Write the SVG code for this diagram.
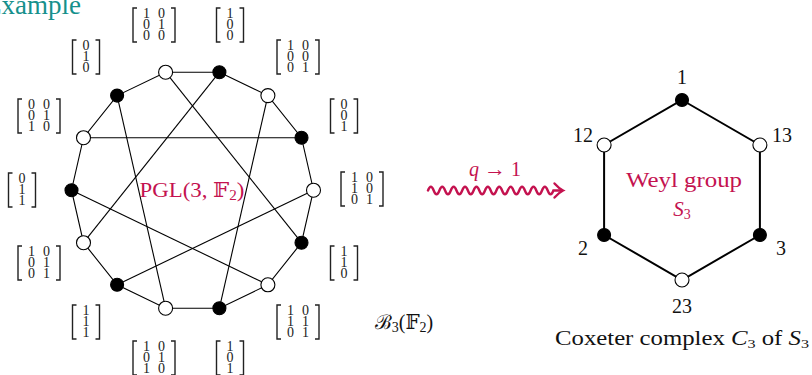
<svg xmlns="http://www.w3.org/2000/svg" xmlns:xlink="http://www.w3.org/1999/xlink" width="812" height="375" viewBox="0 0 812 375">
<style>
.e{stroke:#000;stroke-width:1.1;fill:none}
.h{stroke:#000;stroke-width:2;fill:none}
.w{fill:#fff;stroke:#000;stroke-width:1.1}
.b{fill:#000;stroke:#000;stroke-width:1.1}
.br{fill:none;stroke:#222;stroke-width:1.4}
.d{font-family:"Liberation Serif","DejaVu Serif",serif;font-size:14px;fill:#222;text-anchor:middle}
.t{font-family:"Liberation Serif","DejaVu Serif",serif;font-size:20px;fill:#111;text-anchor:middle}
.m{font-family:"Liberation Serif","DejaVu Serif","DejaVu Sans",serif;fill:#c4124f;text-anchor:middle}
</style>
<defs>
<path id="lv" class="br" d="M-9.5,-17H-13.5V17H-9.5"/>
<path id="rv" class="br" d="M9.5,-17H13.5V17H9.5"/>
<path id="lm" class="br" d="M-17,-17H-21V17H-17"/>
<path id="rm" class="br" d="M17,-17H21V17H17"/>
</defs>
<text x="81" y="13.5" text-anchor="end" font-family="Liberation Serif,DejaVu Serif,serif" font-size="27" fill="#16908c">Example</text>
<g id="connectors">
<polygon class="e" points="219.4,72.2 267.9,95.6 301.5,137.7 313.5,190.2 301.5,242.7 267.9,284.8 219.4,308.2 165.6,308.2 117.1,284.8 83.5,242.7 71.5,190.2 83.5,137.7 117.1,95.6 165.6,72.2"/>
<line class="e" x1="219.4" y1="72.2" x2="83.5" y2="242.7"/>
<line class="e" x1="267.9" y1="95.6" x2="219.4" y2="308.2"/>
<line class="e" x1="301.5" y1="137.7" x2="83.5" y2="137.7"/>
<line class="e" x1="313.5" y1="190.2" x2="117.1" y2="284.8"/>
<line class="e" x1="301.5" y1="242.7" x2="165.6" y2="72.2"/>
<line class="e" x1="267.9" y1="284.8" x2="71.5" y2="190.2"/>
<line class="e" x1="165.6" y1="308.2" x2="117.1" y2="95.6"/>
<polygon class="h" points="682,100 759.9,145 759.9,235 682,280 604.1,235 604.1,145"/>
<path d="M428,190.5 q2.85,-7.5 5.7,0 t5.7,0 t5.7,0 t5.7,0 t5.7,0 t5.7,0 t5.7,0 t5.7,0 t5.7,0 t5.7,0 t5.7,0 t5.7,0 t5.7,0 t5.7,0 t5.7,0 t5.7,0 t5.7,0 t5.7,0 t5.7,0 t5.7,0 t5.7,0 t5.7,0 L561,190.5" fill="none" stroke="#c4124f" stroke-width="2.4" stroke-linecap="round"/>
<path d="M554.5,183.5 Q559,188.5 563,190.5 Q559,192.5 554.5,197.5" fill="none" stroke="#c4124f" stroke-width="2.4" stroke-linecap="round"/>
</g>
<text class="m" x="495" y="176" font-size="20"><tspan font-style="italic">q</tspan> <tspan font-size="22">→</tspan> 1</text>
<text class="m" x="192" y="197" font-size="21" textLength="105" lengthAdjust="spacingAndGlyphs">PGL(3, 𝔽<tspan font-size="14" dy="3">2</tspan><tspan dy="-3">)</tspan></text>
<text class="t" x="404" y="329" font-size="21">ℬ<tspan font-size="14" dy="3">3</tspan><tspan dy="-3">(𝔽</tspan><tspan font-size="14" dy="3">2</tspan><tspan dy="-3">)</tspan></text>
<g id="n0"><circle class="b" cx="219.4" cy="72.2" r="6.5"/><g transform="translate(230,25)"><use xlink:href="#lv"/><use xlink:href="#rv"/><text class="d" y="-7">1</text><text class="d" y="4">0</text><text class="d" y="15">0</text></g></g>
<g id="n1"><circle class="w" cx="267.9" cy="95.6" r="7"/><g transform="translate(298,57)"><use xlink:href="#lm"/><use xlink:href="#rm"/><text class="d" y="-7"><tspan x="-7.5">1</tspan><tspan x="7.5">0</tspan></text><text class="d" y="4"><tspan x="-7.5">0</tspan><tspan x="7.5">0</tspan></text><text class="d" y="15"><tspan x="-7.5">0</tspan><tspan x="7.5">1</tspan></text></g></g>
<g id="n2"><circle class="b" cx="301.5" cy="137.7" r="6.5"/><g transform="translate(344,116)"><use xlink:href="#lv"/><use xlink:href="#rv"/><text class="d" y="-7">0</text><text class="d" y="4">0</text><text class="d" y="15">1</text></g></g>
<g id="n3"><circle class="w" cx="313.5" cy="190.2" r="7"/><g transform="translate(362,189)"><use xlink:href="#lm"/><use xlink:href="#rm"/><text class="d" y="-7"><tspan x="-7.5">1</tspan><tspan x="7.5">0</tspan></text><text class="d" y="4"><tspan x="-7.5">1</tspan><tspan x="7.5">0</tspan></text><text class="d" y="15"><tspan x="-7.5">0</tspan><tspan x="7.5">1</tspan></text></g></g>
<g id="n4"><circle class="b" cx="301.5" cy="242.7" r="6.5"/><g transform="translate(344,263)"><use xlink:href="#lv"/><use xlink:href="#rv"/><text class="d" y="-7">1</text><text class="d" y="4">1</text><text class="d" y="15">0</text></g></g>
<g id="n5"><circle class="w" cx="267.9" cy="284.8" r="7"/><g transform="translate(298,322)"><use xlink:href="#lm"/><use xlink:href="#rm"/><text class="d" y="-7"><tspan x="-7.5">1</tspan><tspan x="7.5">0</tspan></text><text class="d" y="4"><tspan x="-7.5">1</tspan><tspan x="7.5">1</tspan></text><text class="d" y="15"><tspan x="-7.5">0</tspan><tspan x="7.5">1</tspan></text></g></g>
<g id="n6"><circle class="b" cx="219.4" cy="308.2" r="6.5"/><g transform="translate(230,358)"><use xlink:href="#lv"/><use xlink:href="#rv"/><text class="d" y="-7">1</text><text class="d" y="4">0</text><text class="d" y="15">1</text></g></g>
<g id="n7"><circle class="w" cx="165.6" cy="308.2" r="7"/><g transform="translate(154,358)"><use xlink:href="#lm"/><use xlink:href="#rm"/><text class="d" y="-7"><tspan x="-7.5">1</tspan><tspan x="7.5">0</tspan></text><text class="d" y="4"><tspan x="-7.5">0</tspan><tspan x="7.5">1</tspan></text><text class="d" y="15"><tspan x="-7.5">1</tspan><tspan x="7.5">0</tspan></text></g></g>
<g id="n8"><circle class="b" cx="117.1" cy="284.8" r="6.5"/><g transform="translate(86,322)"><use xlink:href="#lv"/><use xlink:href="#rv"/><text class="d" y="-7">1</text><text class="d" y="4">1</text><text class="d" y="15">1</text></g></g>
<g id="n9"><circle class="w" cx="83.5" cy="242.7" r="7"/><g transform="translate(39,263)"><use xlink:href="#lm"/><use xlink:href="#rm"/><text class="d" y="-7"><tspan x="-7.5">1</tspan><tspan x="7.5">0</tspan></text><text class="d" y="4"><tspan x="-7.5">0</tspan><tspan x="7.5">1</tspan></text><text class="d" y="15"><tspan x="-7.5">0</tspan><tspan x="7.5">1</tspan></text></g></g>
<g id="n10"><circle class="b" cx="71.5" cy="190.2" r="6.5"/><g transform="translate(22,190)"><use xlink:href="#lv"/><use xlink:href="#rv"/><text class="d" y="-7">0</text><text class="d" y="4">1</text><text class="d" y="15">1</text></g></g>
<g id="n11"><circle class="w" cx="83.5" cy="137.7" r="7"/><g transform="translate(39,116)"><use xlink:href="#lm"/><use xlink:href="#rm"/><text class="d" y="-7"><tspan x="-7.5">0</tspan><tspan x="7.5">0</tspan></text><text class="d" y="4"><tspan x="-7.5">0</tspan><tspan x="7.5">1</tspan></text><text class="d" y="15"><tspan x="-7.5">1</tspan><tspan x="7.5">0</tspan></text></g></g>
<g id="n12"><circle class="b" cx="117.1" cy="95.6" r="6.5"/><g transform="translate(86,57)"><use xlink:href="#lv"/><use xlink:href="#rv"/><text class="d" y="-7">0</text><text class="d" y="4">1</text><text class="d" y="15">0</text></g></g>
<g id="n13"><circle class="w" cx="165.6" cy="72.2" r="7"/><g transform="translate(154,25)"><use xlink:href="#lm"/><use xlink:href="#rm"/><text class="d" y="-7"><tspan x="-7.5">1</tspan><tspan x="7.5">0</tspan></text><text class="d" y="4"><tspan x="-7.5">0</tspan><tspan x="7.5">1</tspan></text><text class="d" y="15"><tspan x="-7.5">0</tspan><tspan x="7.5">0</tspan></text></g></g>
<g id="h1"><circle class="b" cx="682" cy="100" r="6.5"/><text class="t" x="682" y="84">1</text></g>
<g id="h13"><circle class="w" cx="759.9" cy="145" r="7"/><text class="t" x="782" y="142">13</text></g>
<g id="h3"><circle class="b" cx="759.9" cy="235" r="6.5"/><text class="t" x="781" y="255">3</text></g>
<g id="h23"><circle class="w" cx="682" cy="280" r="7"/><text class="t" x="682" y="313">23</text></g>
<g id="h2"><circle class="b" cx="604.1" cy="235" r="6.5"/><text class="t" x="583" y="255">2</text></g>
<g id="h12"><circle class="w" cx="604.1" cy="145" r="7"/><text class="t" x="583" y="142">12</text></g>
<text class="m" x="684" y="187" font-size="21" textLength="116" lengthAdjust="spacingAndGlyphs">Weyl group</text>
<text class="m" x="682" y="216" font-size="21"><tspan font-style="italic">S</tspan><tspan font-size="14" dy="3">3</tspan></text>
<text class="t" x="682" y="345" font-size="20" textLength="254" lengthAdjust="spacingAndGlyphs">Coxeter complex <tspan font-style="italic">C</tspan><tspan font-size="13" dy="3">3</tspan><tspan dy="-3"> of </tspan><tspan font-style="italic">S</tspan><tspan font-size="13" dy="3">3</tspan></text>
</svg>
